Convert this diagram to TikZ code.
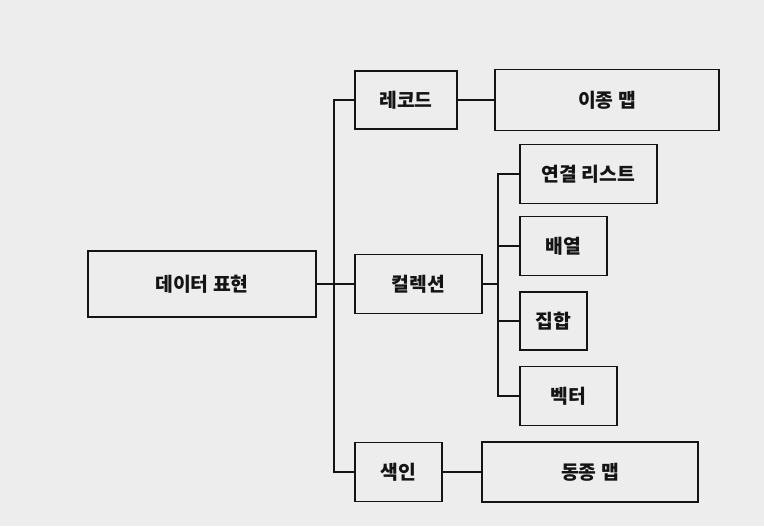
\documentclass[tikz,border=0pt]{standalone}
\usepackage{fontspec}
\usepackage{tikz}
\usetikzlibrary{calc, positioning}
\newfontfamily\krfont{Noto Sans CJK KR}
\definecolor{Paper}{gray}{0.93}
\definecolor{Ink}{gray}{0.08}
\tikzset{
    mybox/.style={draw=Ink,line width=1.5pt,inner sep=0pt,align=center,
        font=\krfont\bfseries\fontsize{16.5}{19}\selectfont,text=Ink},
    myline/.style={draw=Ink,line width=1.5pt}
}

\begin{document}
\begin{tikzpicture}[x=0.03cm,y=-0.03cm]
  \fill [Paper] (0,0) rectangle (764,526);
  \useasboundingbox (0,0) rectangle (764,526);

  % root and first level
  \node[mybox, minimum width=6.84cm, minimum height=1.98cm] (data) at (202,284) {데이터 표현};
  \node[mybox, minimum width=3.06cm, minimum height=1.74cm] (rec) at (406,100) {레코드};
  \node[mybox, minimum width=3.81cm, minimum height=1.77cm] (coll) at (418.5,284) {컬렉션};
  \node[mybox, minimum width=2.61cm, minimum height=1.77cm] (idx) at (398.5,472) {색인};

  % second level
  \node[mybox, minimum width=6.72cm, minimum height=1.83cm] (hetmap) at (607,100) {이종 맵};
  \node[mybox, minimum width=4.11cm, minimum height=1.77cm] (list) at (588.5,174) {연결 리스트};
  \node[mybox, minimum width=2.61cm, minimum height=1.77cm] (arr) at (563.5,246) {배열};
  \node[mybox, minimum width=2.01cm, minimum height=1.74cm] (set) at (553.5,321) {집합};
  \node[mybox, minimum width=2.91cm, minimum height=1.77cm] (vec) at (568.5,396) {벡터};
  \node[mybox, minimum width=6.48cm, minimum height=1.80cm] (hommap) at (590,472) {동종 맵};

  \coordinate (t1) at (334,0);
  \coordinate (t2) at (498,0);

  % connectors
  \draw[myline] (data.east) -- (coll.west);
  \draw[myline] (rec.west) -- (rec.west -| t1) |- (idx.west);
  \draw[myline] (rec.east) -- (hetmap.west);
  \draw[myline] (idx.east) -- (hommap.west);
  \draw[myline] (coll.east) -- (coll.east -| t2);
  \draw[myline] (list.west) -- (list.west -| t2) |- (vec.west);
  \draw[myline] (arr.west) -- (arr.west -| t2);
  \draw[myline] (set.west) -- (set.west -| t2);
\end{tikzpicture}
\end{document}
